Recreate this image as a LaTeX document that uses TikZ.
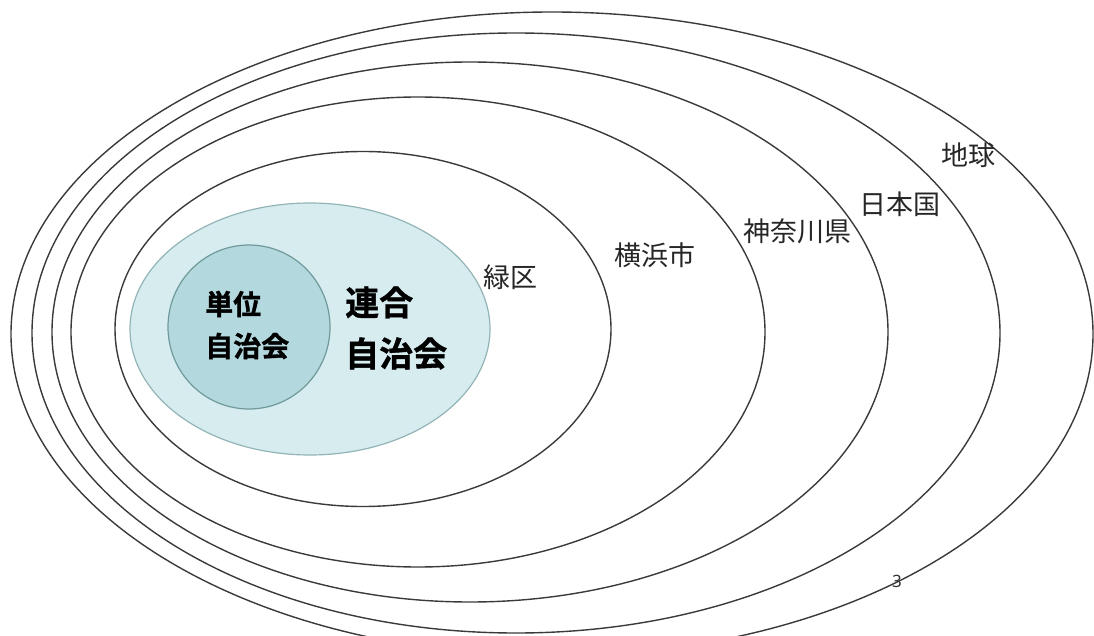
\documentclass[tikz,border=0pt]{standalone}
\usepackage{fontspec}
\usetikzlibrary{shapes.geometric}
\newfontfamily\jp{Noto Sans CJK JP}
\newfontfamily\jpheavy{Noto Sans CJK JP Bold}[FakeBold=1.2]
\newfontfamily\numfont{Noto Sans}
\definecolor{ringcol}{HTML}{3A3A3A}
\definecolor{rengofill}{HTML}{D6ECEF}
\definecolor{rengoline}{HTML}{93B4B6}
\definecolor{tanifill}{HTML}{B3D8DE}
\definecolor{taniline}{HTML}{6F9A9C}
\tikzset{
  ring/.style={ellipse, draw=ringcol, line width=1.4pt, inner sep=0pt},
  region/.style={text=black!85, font=\jp\fontsize{27}{32}\selectfont, inner sep=0pt},
  boldlabel/.style={align=left, anchor=west, inner sep=0pt, text=black},
}
\begin{document}
\begin{tikzpicture}[x=1pt,y=-1pt]
\useasboundingbox (0,0) rectangle (1094,636);
\clip (0,0) rectangle (1094,636);
\node[ring, minimum width=1082pt, minimum height=644pt] (earth) at (552,334) {};
\node[ring, minimum width=968pt, minimum height=600pt] (japan) at (516,333) {};
\node[ring, minimum width=836pt, minimum height=540pt] (kanagawa) at (470,332) {};
\node[ring, minimum width=694pt, minimum height=470pt] (yokohama) at (418,332) {};
\node[ring, minimum width=496pt, minimum height=355pt] (midori) at (363,329) {};
\node[ellipse, fill=rengofill, draw=rengoline, line width=1.2pt, inner sep=0pt,
      minimum width=360pt, minimum height=252pt] (rengo) at (310,329) {};
\node[ellipse, fill=tanifill, draw=taniline, line width=1.2pt, inner sep=0pt,
      minimum width=162pt, minimum height=164pt] (tani) at (249,327) {};
\node[boldlabel, font=\jpheavy\fontsize{28}{42}\selectfont] (tanilabel) at (205,325) {単位\\自治会};
\node[boldlabel, font=\jpheavy\fontsize{34}{51}\selectfont] (rengolabel) at (345,328) {連合\\自治会};
\node[region] (lmidori) at (510,277) {緑区};
\node[region] (lyokohama) at (655,255) {横浜市};
\node[region] (lkanagawa) at (797,231) {神奈川県};
\node[region] (ljapan) at (900,204) {日本国};
\node[region] (learth) at (968,155) {地球};
\node[font=\numfont\fontsize{17}{20}\selectfont, text=black!80, inner sep=0pt] (pagenum) at (897,581) {3};
\end{tikzpicture}
\end{document}
